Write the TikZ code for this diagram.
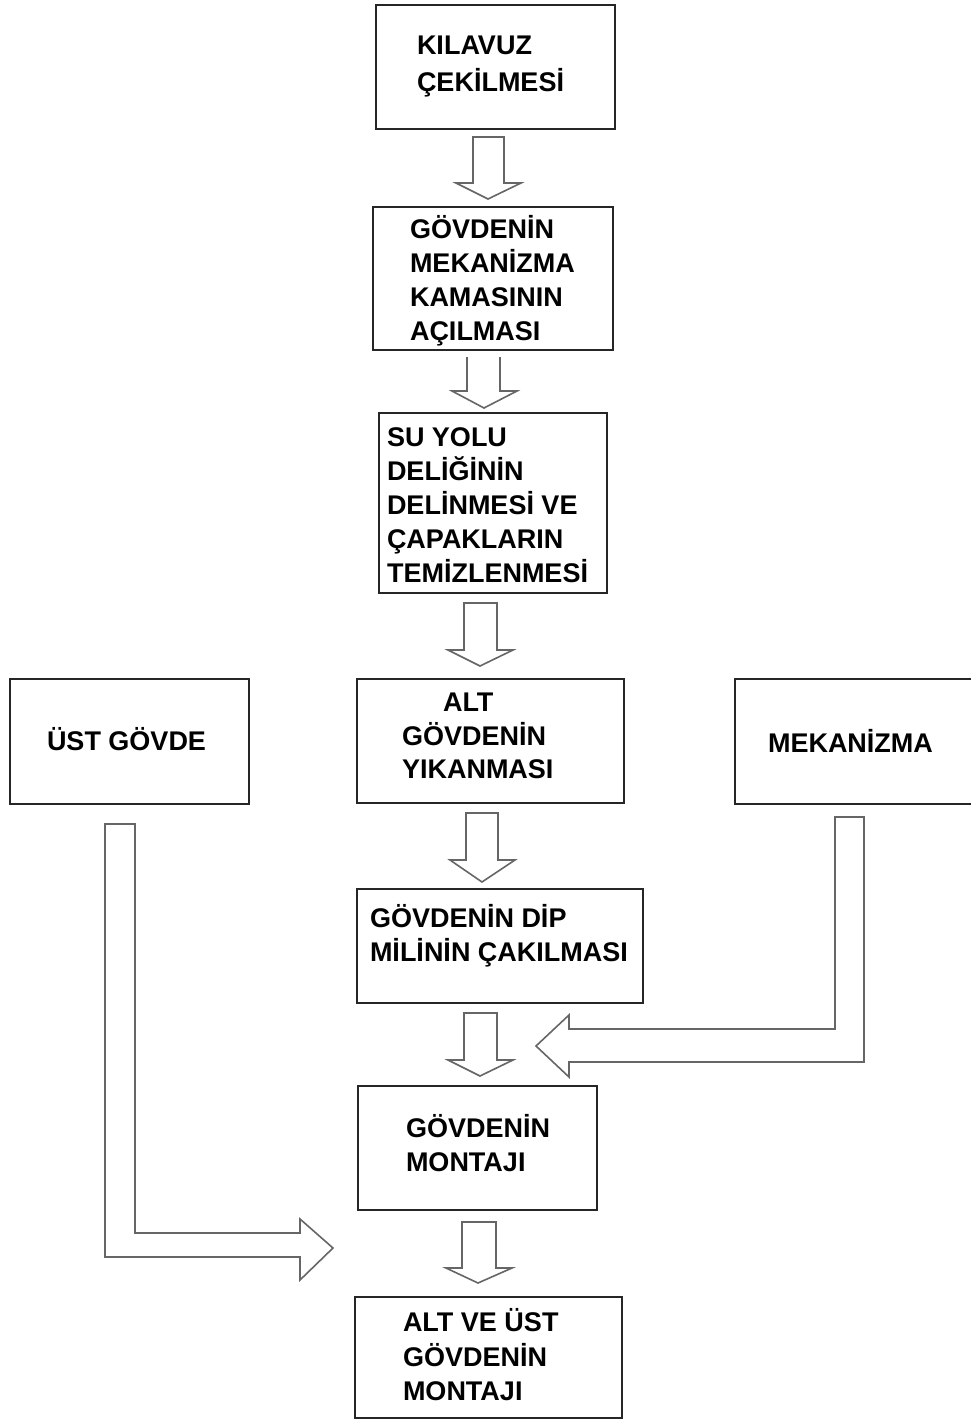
\documentclass[tikz,border=0pt]{standalone}
\usepackage{fontspec}
\setmainfont{Liberation Sans}
\begin{document}
\begin{tikzpicture}[x=1pt,y=-1pt,
  box/.style={draw=black!85, line width=1.5pt, inner sep=0pt, outer sep=0pt},
  lbl/.style={anchor=base west, inner sep=0pt, outer sep=0pt,
              font=\fontsize{27}{34}\bfseries\selectfont},
  barrow/.style={draw=black!60, line width=1.6pt, line join=miter, fill=white}]
\useasboundingbox[fill=white] (0,0) rectangle (971,1421);

% process boxes
\node[box, minimum width=239pt, minimum height=124pt] (b1) at (495.5,67) {};
\node[box, minimum width=240pt, minimum height=143pt] (b2) at (493,278.5) {};
\node[box, minimum width=228pt, minimum height=180pt] (b3) at (493,503) {};
\node[box, minimum width=267pt, minimum height=124pt] (b4) at (490.5,741) {};
\node[box, minimum width=239pt, minimum height=125pt] (b5) at (129.5,741.5) {};
\node[box, minimum width=245pt, minimum height=125pt] (b6) at (857.5,741.5) {};
\node[box, minimum width=286pt, minimum height=114pt] (b7) at (500,946) {};
\node[box, minimum width=239pt, minimum height=124pt] (b8) at (477.5,1148) {};
\node[box, minimum width=267pt, minimum height=121pt] (b9) at (488.5,1357.5) {};

% labels
\node[lbl] (t1a) at (417,55) {KILAVUZ};
\node[lbl] (t1b) at (417,91) {ÇEKİLMESİ};

\node[lbl] (t2a) at (410,238) {GÖVDENİN};
\node[lbl] (t2b) at (410,272) {MEKANİZMA};
\node[lbl] (t2c) at (410,306) {KAMASININ};
\node[lbl] (t2d) at (410,340) {AÇILMASI};

\node[lbl] (t3a) at (387,446) {SU YOLU};
\node[lbl] (t3b) at (387,480) {DELİĞİNİN};
\node[lbl] (t3c) at (387,514) {DELİNMESİ VE};
\node[lbl] (t3d) at (387,548) {ÇAPAKLARIN};
\node[lbl] (t3e) at (387,582) {TEMİZLENMESİ};

\node[lbl] (t4a) at (443,711) {ALT};
\node[lbl] (t4b) at (402,745) {GÖVDENİN};
\node[lbl] (t4c) at (402,778) {YIKANMASI};

\node[lbl] (t5) at (47,750) {ÜST GÖVDE};
\node[lbl] (t6) at (768,752) {MEKANİZMA};

\node[lbl] (t7a) at (370,927) {GÖVDENİN DİP};
\node[lbl] (t7b) at (370,961) {MİLİNİN ÇAKILMASI};

\node[lbl] (t8a) at (406,1137) {GÖVDENİN};
\node[lbl] (t8b) at (406,1171) {MONTAJI};

\node[lbl] (t9a) at (403,1331) {ALT VE ÜST};
\node[lbl] (t9b) at (403,1366) {GÖVDENİN};
\node[lbl] (t9c) at (403,1400) {MONTAJI};

% block arrows between the steps
\draw[barrow] (473,137) -- (504,137) -- (504,183) -- (521,183) -- (488,199)
  -- (456,183) -- (473,183) -- cycle;
\draw[barrow, fill=none] (467,357) -- (467,391) -- (452,391) -- (484,408)
  -- (517,391) -- (500,391) -- (500,357);
\draw[barrow] (464,603) -- (497,603) -- (497,650) -- (513,650) -- (480,666)
  -- (448,650) -- (464,650) -- cycle;
\draw[barrow] (466,813) -- (498,813) -- (498,860) -- (515,860) -- (482,882)
  -- (450,860) -- (466,860) -- cycle;
\draw[barrow] (464,1013) -- (497,1013) -- (497,1060) -- (513,1060) -- (480,1076)
  -- (448,1060) -- (464,1060) -- cycle;
\draw[barrow] (462,1222) -- (496,1222) -- (496,1268) -- (512,1268) -- (478,1283)
  -- (446,1268) -- (462,1268) -- cycle;

% bent arrow from the mechanism
\draw[barrow] (835,817) -- (864,817) -- (864,1062) -- (569,1062) -- (569,1077)
  -- (536,1046) -- (569,1015) -- (569,1029) -- (835,1029) -- cycle;

% bent arrow from the upper body
\draw[barrow] (105,824) -- (135,824) -- (135,1233) -- (300,1233) -- (300,1219)
  -- (333,1248) -- (300,1280) -- (300,1257) -- (105,1257) -- cycle;
\end{tikzpicture}
\end{document}
